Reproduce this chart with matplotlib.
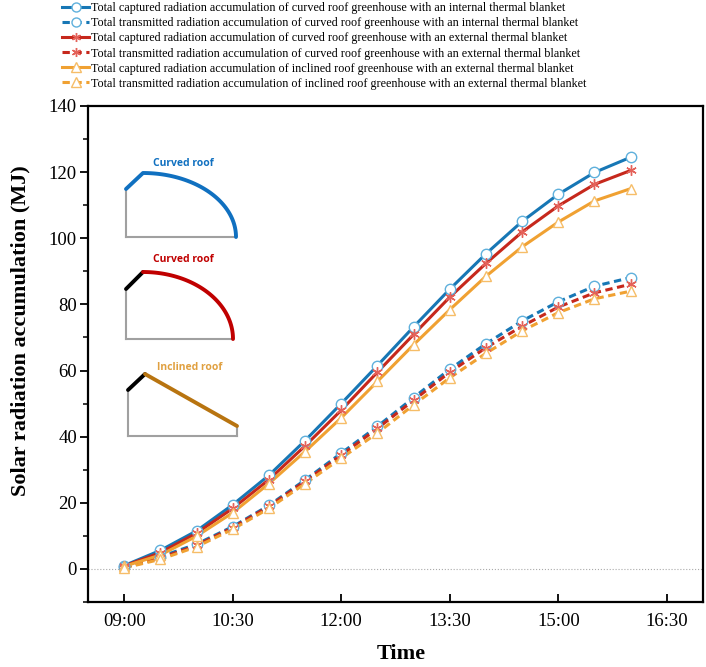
import numpy as np
import matplotlib
matplotlib.use('Agg')
import matplotlib.pyplot as plt
from matplotlib.lines import Line2D

# time in hours, every 30 min from 09:00 to 16:00
hours = [9.0, 9.5, 10.0, 10.5, 11.0, 11.5, 12.0, 12.5, 13.0, 13.5, 14.0, 14.5, 15.0, 15.5, 16.0]

cap_curved_int = [1.0, 5.6, 11.5, 19.4, 28.3, 38.8, 50.0, 61.5, 73.2, 84.6, 95.3, 105.1, 113.3, 119.9, 124.5]
tra_curved_int = [0.5, 3.7, 7.5, 12.8, 19.2, 26.9, 35.0, 43.1, 51.8, 60.4, 68.1, 75.0, 80.8, 85.5, 88.1]
cap_curved_ext = [0.9, 4.9, 10.8, 18.3, 27.0, 37.2, 48.0, 59.5, 70.9, 82.2, 92.4, 101.9, 109.8, 116.3, 120.5]
tra_curved_ext = [0.4, 3.3, 7.1, 12.5, 18.9, 26.5, 34.4, 42.5, 51.0, 59.5, 66.9, 73.4, 79.2, 83.5, 86.1]
cap_inclined_ext = [0.8, 4.2, 9.9, 17.0, 25.8, 35.5, 45.7, 56.7, 67.8, 78.4, 88.5, 97.4, 104.9, 111.3, 115.0]
tra_inclined_ext = [0.3, 2.9, 6.7, 12.0, 18.3, 25.8, 33.5, 41.1, 49.6, 57.8, 65.2, 72.0, 77.5, 81.7, 84.0]

labels = [
    'Total captured radiation accumulation of curved roof greenhouse with an internal thermal blanket',
    'Total transmitted radiation accumulation of curved roof greenhouse with an internal thermal blanket',
    'Total captured radiation accumulation of curved roof greenhouse with an external thermal blanket',
    'Total transmitted radiation accumulation of curved roof greenhouse with an external thermal blanket',
    'Total captured radiation accumulation of inclined roof greenhouse with an external thermal blanket',
    'Total transmitted radiation accumulation of inclined roof greenhouse with an external thermal blanket',
]
xtick_pos = [9.0, 10.5, 12.0, 13.5, 15.0, 16.5]
xtick_labels = ['09:00', '10:30', '12:00', '13:30', '15:00', '16:30']

plt.rcParams['font.family'] = ['Liberation Serif', 'DejaVu Serif']

blue, red, orange = '#1777b5', '#c6281c', '#f0a132'
blue_m, red_m, orange_m = '#5fb0dc', '#e4625a', '#f6bd68'
dash = (0, (2.4, 1.5))
star = (6, 2, 0)

series = [
    (cap_curved_int, blue, blue_m, 'o', '-'),
    (tra_curved_int, blue, blue_m, 'o', dash),
    (cap_curved_ext, red, red_m, star, '-'),
    (tra_curved_ext, red, red_m, star, dash),
    (cap_inclined_ext, orange, orange_m, '^', '-'),
    (tra_inclined_ext, orange, orange_m, '^', dash),
]

fig = plt.figure(figsize=(7.06, 6.67), dpi=100)
ax = fig.add_axes([88/706, 65/667, 615/706, 496/667])

ax.axhline(0, color='#aaaaaa', lw=0.8, ls=':', zorder=1)

handles = []
for vals, c, mc, mk, ls in series:
    ax.plot(hours, vals, color=c, lw=2.2, ls=ls, zorder=2)
    ax.plot(hours, vals, ls='none', marker=mk, ms=7.5, mfc='white' if mk != star else mc,
            mec=mc, mew=1.0, zorder=3)
    handles.append(Line2D([], [], color=c, lw=2.2, ls=ls, marker=mk, ms=6.5,
                          mfc='white', mec=mc, mew=1.0))

ax.set_xlim(8.5, 17.0)
ax.set_ylim(-10, 140)
ax.set_xticks(xtick_pos)
ax.set_xticklabels(xtick_labels)
ax.set_yticks(np.arange(0, 141, 20))
ax.set_yticks(np.arange(-10, 141, 10), minor=True)
ax.tick_params(axis='x', direction='in', length=6, width=1.3, labelsize=13.5, pad=8)
ax.tick_params(axis='y', which='major', direction='out', length=6, width=1.3, labelsize=13.5, pad=2)
ax.tick_params(axis='y', which='minor', direction='out', length=3.5, width=1.1)
for s in ax.spines.values():
    s.set_linewidth(1.6)

ax.set_ylabel('Solar radiation accumulation (MJ)', fontsize=16, fontweight='bold')
ax.yaxis.set_label_coords(-0.093, 0.548)
ax.set_xlabel('Time', fontsize=16, fontweight='bold', va='top')
ax.xaxis.set_label_coords(0.51, -0.085)

fig.legend(handles, labels, loc='upper left', bbox_to_anchor=(54/706, 1.009), frameon=False,
           fontsize=8.7, handlelength=2.2, handletextpad=0.15, labelspacing=0.25, borderpad=0.2)

# roof sketches drawn in pixel space on an overlay
ov = fig.add_axes([0, 0, 1, 1], zorder=5)
ov.set_xlim(0, 706)
ov.set_ylim(667, 0)
ov.axis('off')
ov.patch.set_alpha(0)

gray = '#a0a0a0'
t = np.linspace(0, np.pi/2, 60)

# curved roof, internal blanket
ov.plot([126, 126], [237, 189], color=gray, lw=1.5)
ov.plot([126, 236], [237, 237], color=gray, lw=1.5)
ov.plot(np.r_[126, 143 + 93*np.sin(t)], np.r_[189, 237 - 64*np.cos(t)], color='#1070c0', lw=2.8,
        solid_capstyle='round')
ov.text(183, 163, 'Curved roof', color='#1070c0', fontsize=7.5, fontweight='bold',
        family='Open Sans', ha='center', va='center')

# curved roof, external blanket
ov.plot([126, 126], [339, 289], color=gray, lw=1.5)
ov.plot([126, 233], [339, 339], color=gray, lw=1.5)
ov.plot([126, 143], [289, 272], color='black', lw=2.8, solid_capstyle='round')
ov.plot(143 + 90*np.sin(t), 339 - 67*np.cos(t), color='#c00000', lw=2.8, solid_capstyle='round')
ov.text(183, 260, 'Curved roof', color='#c00000', fontsize=7.5, fontweight='bold',
        family='Open Sans', ha='center', va='center')

# inclined roof
ov.plot([128, 128], [436, 390], color=gray, lw=1.5)
ov.plot([128, 237], [436, 436], color=gray, lw=1.5)
ov.plot([237, 237], [436, 426], color=gray, lw=1.5)
ov.plot([128, 145], [390, 374], color='black', lw=2.8, solid_capstyle='round')
ov.plot([145, 237], [374, 426], color='#b87410', lw=2.8, solid_capstyle='round')
ov.text(190, 368, 'Inclined roof', color='#e0a040', fontsize=7.5, fontweight='bold',
        family='Open Sans', ha='center', va='center')

fig.savefig('out.png', dpi=100)
